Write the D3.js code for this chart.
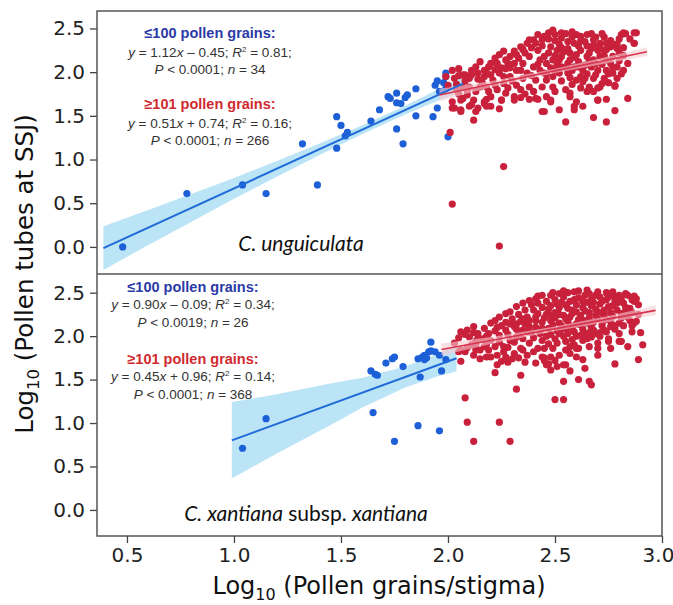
<!DOCTYPE html>
<html>
<head>
<meta charset="utf-8">
<script src="https://cdn.jsdelivr.net/npm/d3@7"></script>
<style>
body { margin: 0; background: #fff; }
</style>
</head>
<body>
<div id="chart"></div>
<script>
const xTicks = [0.5, 1.0, 1.5, 2.0, 2.5, 3.0]
const yTicks = [0.0, 0.5, 1.0, 1.5, 2.0, 2.5]
const xTitle = 'Log'
const yTitle = 'Log'

// C. unguiculata, <=100 pollen grains
const topSmall = [[0.48,0.00],[0.78,0.61],[1.04,0.71],[1.15,0.61],[1.32,1.18],[1.39,0.71],[1.48,1.49],[1.48,1.13],[1.50,1.39],[1.52,1.27],[1.53,1.31],[1.64,1.44],[1.68,1.57],[1.72,1.72],[1.76,1.76],[1.76,1.65],[1.78,1.64],[1.80,1.71],[1.81,1.74],[1.85,1.81],[1.76,1.35],[1.79,1.18],[1.85,1.50],[1.93,1.49],[1.95,1.59],[1.94,1.85],[1.95,1.90],[1.99,1.99],[1.99,1.81],[2.00,1.26],[1.96,1.78],[1.98,1.88],[1.73,1.70],[1.99,1.95]]

// C. unguiculata, >=101 pollen grains
const topLarge = [[2.01,1.31],[2.26,0.92],[2.02,0.49],[2.24,0.01],[2.12,1.45],[2.24,1.58],[2.44,1.55],[2.55,1.43],[2.68,1.48],[2.74,1.43],[2.78,1.56],[2.84,1.70],[2.52,1.57],[2.59,1.57],[2.63,1.61],[2.70,1.68],[2.78,1.84],[2.81,1.98],[2.84,2.10],[2.82,2.19],[2.87,2.33],[2.87,2.45],[2.82,2.45],[2.74,1.69],[2.71,1.83],[2.66,1.80],[2.57,1.72],[2.48,1.66],[2.38,1.69],[2.42,1.69],[2.34,1.71],[2.31,1.68],[2.17,1.64],[2.18,1.69],[2.13,1.55],[2.10,1.61],[2.07,1.70],[2.06,1.57],[2.02,1.59],[2.02,1.66],[2.05,1.75],[2.14,1.59],[2.20,1.61],[2.25,1.68],
  [2.49,2.48],[2.50,2.43],[2.53,2.39],[2.56,2.35],[2.59,2.33],[2.62,2.41],[2.65,2.43],[2.68,2.37],[2.71,2.33],[2.74,2.33],[2.73,2.25],[2.76,2.29],[2.79,2.27],[2.81,2.43],[2.83,2.44],[2.88,2.45],[2.87,2.33],[2.78,1.85],[2.77,1.99],[2.73,1.93],[2.72,1.87],[2.70,1.82],[2.68,1.93],[2.68,1.78],[2.70,1.68],[2.66,1.83],[2.63,1.89],[2.60,1.91],[2.63,2.02],[2.59,2.06],[2.56,2.10],[2.52,2.14],[2.49,2.14],[2.46,2.10],[2.45,2.18],[2.48,2.29],[2.51,2.25],[2.54,2.23],[2.57,2.22],[2.60,2.20],[2.65,2.18],[2.68,2.14],[2.71,2.18],[2.74,2.14],[2.77,2.18],[2.80,2.22],[2.70,2.02],[2.74,2.02],[2.56,1.99],[2.52,1.99],[2.49,1.95],[2.46,1.91],[2.45,1.99],[2.49,1.83],[2.50,1.78],[2.57,1.76],[2.65,1.78],[2.60,1.66],[2.48,1.68],[2.45,1.55],[2.59,1.61],[2.46,1.72],
  [2.06,1.68],[2.03,1.59],[2.02,2.02],[2.05,2.04],[2.07,1.97],[2.10,1.93],[2.14,1.99],[2.17,2.02],[2.20,2.10],[2.24,2.20],[2.27,2.14],[2.31,2.24],[2.34,2.29],[2.37,2.33],[2.40,2.37],[2.42,2.43],[2.38,2.18],[2.35,2.10],[2.32,2.02],[2.29,1.95],[2.26,1.87],[2.23,1.80],[2.20,1.72],[2.17,1.66],[2.13,1.78],[2.10,1.83],[2.07,1.83],[2.09,1.74],[2.12,1.68],[2.18,1.83],[2.21,1.91],[2.24,1.99],[2.27,2.04],[2.31,2.10],[2.34,2.02],[2.37,1.99],[2.40,2.06],[2.43,2.14],[2.41,1.91],[2.38,1.83],[2.34,1.80],[2.31,1.72],[2.27,1.76],[2.25,1.68],[2.41,1.70],[2.32,1.85],[2.23,2.10],[2.17,1.95],[2.13,2.06],[2.03,1.93],[2.00,1.85],[1.99,1.95],[2.06,1.55],[2.11,1.63],[2.18,1.61],
  [2.44,2.30],[2.47,2.38],[2.52,2.32],[2.55,2.44],[2.58,2.40],[2.61,2.30],[2.64,2.35],[2.67,2.27],[2.70,2.25],[2.73,2.40],[2.76,2.36],[2.79,2.32],[2.62,2.25],[2.66,2.22],[2.53,2.18],[2.57,2.14],[2.61,2.12],[2.64,2.08],[2.67,2.06],[2.72,2.09],[2.76,2.10],[2.79,2.06],[2.48,2.05],[2.51,2.09],[2.55,2.05],[2.42,2.25],[2.39,2.28],[2.36,2.22],[2.33,2.16],[2.29,2.18],[2.26,2.24],[2.22,2.16],[2.19,2.06],[2.15,2.12],[2.11,2.02],[2.08,1.90],[2.04,1.86],[2.16,1.88],[2.20,1.97],[2.26,1.95],[2.29,2.05],[2.43,2.02],[2.46,1.98],[2.58,1.86],[2.62,1.95],[2.65,1.98],[2.69,1.97],[2.75,1.98],[2.80,2.13],[2.82,2.28],[2.85,2.38],[2.69,2.40],[2.60,2.43],[2.50,2.36],[2.45,2.41],
  [2.47,2.22],[2.50,2.19],[2.53,2.28],[2.56,2.27],[2.59,2.17],[2.62,2.36],[2.65,2.30],[2.68,2.31],[2.71,2.28],[2.74,2.26],[2.77,2.32],[2.80,2.38],[2.72,2.44],[2.67,2.44],[2.58,2.46],[2.53,2.45],[2.47,2.45],[2.44,2.37],[2.41,2.33],[2.38,2.37],[2.35,2.26],[2.32,2.20],[2.28,2.10],[2.25,2.05],[2.22,2.03],[2.18,1.99],[2.14,1.92],[2.11,1.97],[2.08,1.97],[2.05,1.96],[2.04,1.80],[2.09,1.79],[2.15,1.83],[2.19,1.78],[2.22,1.85],[2.28,1.82],[2.35,1.93],[2.39,1.96],[2.42,2.09],[2.50,2.02],[2.53,2.06],[2.58,2.02],[2.61,2.06],[2.66,2.12],[2.69,2.10],[2.73,2.19],[2.77,2.05],[2.64,1.93],[2.57,1.94],[2.53,1.90],[2.44,1.83],[2.40,1.78],[2.30,1.90],[2.36,1.75],[2.62,1.82],[2.55,1.80],[2.75,1.88],[2.79,1.93],[2.82,2.02]]

// C. xantiana subsp. xantiana, <=100 pollen grains
const botSmall = [[1.04,0.71],[1.15,1.05],[1.65,1.12],[1.75,0.79],[1.86,0.97],[1.96,0.91],[1.64,1.60],[1.66,1.56],[1.67,1.55],[1.71,1.69],[1.74,1.74],[1.75,1.76],[1.79,1.65],[1.87,1.53],[1.86,1.74],[1.88,1.76],[1.89,1.78],[1.91,1.82],[1.92,1.83],[1.92,1.93],[1.94,1.82],[1.96,1.78],[1.89,1.73],[1.97,1.60],[1.99,1.73],[1.90,1.75]]

// C. xantiana subsp. xantiana, >=101 pollen grains
const botLarge = [[2.08,1.29],[2.09,1.01],[2.12,0.79],[2.24,1.01],[2.29,0.79],[2.32,1.39],[2.34,1.55],[2.22,1.58],[2.23,1.67],[2.15,1.74],[2.06,1.71],[2.50,1.27],[2.54,1.27],[2.54,1.48],[2.61,1.50],[2.66,1.48],[2.67,1.44],[2.54,1.67],[2.47,1.68],[2.41,1.69],[2.45,1.75],[2.78,1.68],[2.89,1.73],[2.91,1.90],[2.90,2.04],[2.88,2.17],[2.87,2.40],[2.87,2.46],[2.83,2.49],[2.63,1.73],[2.60,1.86],[2.70,1.86],[2.75,1.94],[2.81,1.94],[2.37,1.78],[2.35,1.84],[2.30,1.74],[2.26,1.82],[2.19,1.84],[2.13,1.84],[2.08,1.82],[2.06,1.84],
  [2.06,2.05],[2.09,2.07],[2.12,2.11],[2.10,1.99],[2.14,2.03],[2.17,2.09],[2.20,2.15],[2.22,2.18],[2.24,2.22],[2.27,2.26],[2.29,2.28],[2.32,2.34],[2.35,2.38],[2.38,2.41],[2.41,2.43],[2.44,2.47],[2.40,2.30],[2.37,2.22],[2.34,2.17],[2.31,2.11],[2.27,2.07],[2.24,2.01],[2.20,1.95],[2.17,1.88],[2.15,1.84],[2.11,1.90],[2.26,1.88],[2.29,1.95],[2.32,1.99],[2.35,2.07],[2.38,2.11],[2.41,2.18],[2.43,2.03],[2.38,1.92],[2.34,1.86],[2.31,1.80],[2.27,1.76],[2.25,1.71],[2.42,1.86],[2.44,1.76],[2.20,1.76],[2.03,1.92],[2.05,1.82],
  [2.45,1.86],[2.49,1.86],[2.45,1.72],[2.46,1.67],[2.48,1.61],[2.57,1.88],[2.55,1.84],[2.55,1.67],[2.65,1.97],[2.69,2.03],[2.73,2.07],[2.76,2.11],[2.80,2.15],[2.84,2.22],[2.87,2.15],[2.89,2.36],[2.88,2.43],[2.80,2.47],[2.76,2.49],[2.70,2.51],[2.65,2.53],[2.59,2.51],[2.52,2.49],[2.48,2.47],[2.80,2.03],[2.80,1.94],[2.75,1.97],[2.70,1.92],[2.61,1.86],
  [2.46,2.40],[2.50,2.42],[2.54,2.45],[2.57,2.40],[2.61,2.44],[2.64,2.47],[2.67,2.42],[2.71,2.45],[2.74,2.42],[2.78,2.41],[2.82,2.38],[2.85,2.32],[2.44,2.33],[2.48,2.35],[2.52,2.33],[2.56,2.32],[2.60,2.36],[2.63,2.33],[2.67,2.35],[2.71,2.37],[2.75,2.34],[2.79,2.30],[2.83,2.28],[2.46,2.25],[2.50,2.27],[2.54,2.24],[2.58,2.26],[2.62,2.24],[2.66,2.27],[2.70,2.28],[2.73,2.24],[2.77,2.23],[2.81,2.21],[2.44,2.16],[2.48,2.18],[2.52,2.15],[2.56,2.17],[2.60,2.14],[2.64,2.18],[2.68,2.16],[2.72,2.15],[2.76,2.17],[2.47,2.09],[2.51,2.06],[2.55,2.09],[2.59,2.05],[2.63,2.08],[2.67,2.10],[2.71,2.00],[2.46,2.00],[2.50,1.97],[2.54,2.00],[2.58,1.96],[2.62,2.01],[2.66,2.04],[2.42,2.26],[2.39,2.36],[2.36,2.30],[2.33,2.25],[2.30,2.20],[2.27,2.16],[2.23,2.10],[2.19,2.03],[2.16,1.97],[2.13,1.94],[2.28,2.02],[2.32,2.08],[2.36,2.14],[2.39,2.04],[2.35,1.97],[2.40,1.98],[2.44,2.09],[2.69,2.47],[2.56,2.50],[2.61,2.52],[2.74,2.50],[2.78,2.46],[2.86,2.42],[2.84,2.47],[2.53,2.39],[2.42,2.38],[2.58,2.30],[2.65,2.39],[2.69,2.31],[2.73,2.30],[2.77,2.35],[2.50,2.21],[2.55,2.20],[2.61,2.19],[2.66,2.21],[2.70,2.20],[2.74,2.19],[2.78,2.12],[2.57,2.12],[2.53,2.12],
  [2.48,2.02],[2.52,2.03],[2.56,2.03],[2.60,2.00],[2.64,2.02],[2.68,2.07],[2.72,2.12],[2.74,2.05],[2.78,2.08],[2.82,2.12],[2.85,2.18],[2.83,2.33],[2.86,2.27],[2.81,2.26],[2.79,2.38],[2.75,2.45],[2.72,2.40],[2.68,2.39],[2.63,2.40],[2.59,2.42],[2.55,2.36],[2.51,2.37],[2.47,2.31],[2.45,2.21],[2.49,2.13],[2.53,2.08],[2.58,2.09],[2.62,2.13],[2.65,2.15],[2.69,2.24],[2.72,2.27],[2.76,2.27],[2.64,2.29],[2.60,2.28],[2.57,2.22],[2.52,2.25],[2.48,2.24],[2.41,2.22],[2.38,2.18],[2.35,2.20],[2.32,2.14],[2.29,2.14],[2.25,2.12],[2.22,2.06],[2.18,2.00],[2.14,1.98],[2.12,2.04],[2.08,2.02],[2.05,1.98],[2.09,1.87],[2.13,1.90],[2.18,1.91],[2.22,1.88],[2.24,1.93],[2.28,1.87],[2.31,1.93],[2.33,2.02],[2.37,2.05],[2.41,2.10],[2.44,1.95],[2.47,1.91],[2.51,1.92],[2.55,1.94],[2.59,1.90],[2.63,1.95],[2.67,1.99],[2.71,2.04],[2.66,1.88],[2.57,1.80],[2.52,1.78],[2.48,1.76],[2.40,1.82],[2.36,1.70],[2.33,1.75],[2.28,1.70],[2.23,1.78],[2.18,1.76],[2.12,1.78],[2.50,1.72],[2.60,1.76],[2.64,1.63],[2.57,1.60],[2.51,1.65],[2.70,1.78],[2.76,1.86],[2.84,1.88],[2.86,2.05],[2.89,2.25],[2.86,2.12],[2.42,2.46],[2.49,2.50],[2.54,2.52],[2.66,2.49],[2.77,2.51],[2.81,2.43]]

// regression fits: [slope, intercept, xFrom, xTo]
const topSmallFit = [1.12, -0.45, 0.39, 2.07]
const topLargeFit = [0.51, 0.74, 1.96, 2.93]
const botSmallFit = [0.90, -0.09, 0.99, 2.04]
const botLargeFit = [0.45, 0.96, 1.97, 2.97]

// confidence band half-widths: [x, half-width]
const topSmallBand = [[0.39,0.25],[0.6,0.20],[0.8,0.16],[1.0,0.12],[1.2,0.09],[1.4,0.065],[1.6,0.05],[1.8,0.05],[1.95,0.065],[2.07,0.08]]
const topLargeBand = [[1.96,0.07],[2.2,0.035],[2.5,0.025],[2.7,0.035],[2.93,0.05]]
const botSmallBand = [[0.99,0.44],[1.2,0.34],[1.45,0.24],[1.6,0.17],[1.8,0.12],[1.95,0.13],[2.04,0.15]]
const botLargeBand = [[1.97,0.07],[2.2,0.04],[2.5,0.025],[2.75,0.035],[2.97,0.055]]

// annotation texts
const smallHead = '\u2264100 pollen grains:'
const largeHead = '\u2265101 pollen grains:'
const topStats = [['1.12', '\u2013', '0.45', '0.81', '0.0001', '34'], ['0.51', '+', '0.74', '0.16', '0.0001', '266']]
const botStats = [['0.90', '\u2013', '0.09', '0.34', '0.0019', '26'], ['0.45', '+', '0.96', '0.14', '0.0001', '368']]
const topSpecies = [['C. unguiculata', true]]
const botSpecies = [['C. xantiana', true], [' subsp. ', false], ['xantiana', true]]

const width = 673
const height = 605
const left = 97, right = 662
const blueDot = '#1c5fd6', redDot = '#c9213c'
const tickFont = 'DejaVu Sans, sans-serif'

const svg = d3.select('#chart').append('svg')
    .attr('width', width)
    .attr('height', height)
    .style('font-family', 'Liberation Sans, Arial, sans-serif')

const x = d3.scaleLinear().domain([0.36, 3.0]).range([left, right])

const panels = [
    {top: 11, bottom: 274, domain: [-0.31, 2.70], small: topSmall, large: topLarge,
     smallFit: topSmallFit, largeFit: topLargeFit, smallBand: topSmallBand, largeBand: topLargeBand,
     stats: topStats, textX: 210, textY: [38, 57, 74, 109, 128, 145],
     species: topSpecies, speciesX: 301, speciesY: 251},
    {top: 274, bottom: 536, domain: [-0.30, 2.715], small: botSmall, large: botLarge,
     smallFit: botSmallFit, largeFit: botLargeFit, smallBand: botSmallBand, largeBand: botLargeBand,
     stats: botStats, textX: 193, textY: [292, 308.5, 327, 363.5, 381, 398.5],
     species: botSpecies, speciesX: 306, speciesY: 521}
]

panels.forEach((p) => {
    const y = d3.scaleLinear().domain(p.domain).range([p.bottom, p.top])
    const clipId = 'clip' + p.top
    svg.append('clipPath').attr('id', clipId)
        .append('rect').attr('x', left).attr('y', p.top).attr('width', right - left).attr('height', p.bottom - p.top)
    const g = svg.append('g').attr('clip-path', `url(#${clipId})`)

    const band = (fit) => d3.area()
        .x((d) => x(d[0]))
        .y0((d) => y(fit[0] * d[0] + fit[1] - d[1]))
        .y1((d) => y(fit[0] * d[0] + fit[1] + d[1]))

    g.append('path').datum(p.smallBand)
        .attr('d', band(p.smallFit))
        .attr('fill', '#bce4f7')

    g.selectAll('.small').data(p.small).enter().append('circle')
        .attr('cx', (d) => x(d[0]))
        .attr('cy', (d) => y(d[1]))
        .attr('r', 3.6)
        .attr('fill', blueDot)
    g.selectAll('.large').data(p.large).enter().append('circle')
        .attr('cx', (d) => x(d[0]))
        .attr('cy', (d) => y(d[1]))
        .attr('r', 3.6)
        .attr('fill', redDot)

    g.append('path').datum(p.largeBand)
        .attr('d', band(p.largeFit))
        .attr('fill', '#f6c9d0')
        .attr('opacity', 0.6)

    const fitLine = (fit) => [[fit[2], fit[0] * fit[2] + fit[1]], [fit[3], fit[0] * fit[3] + fit[1]]]
    g.append('path').datum(fitLine(p.smallFit))
        .attr('d', d3.line().x((d) => x(d[0])).y((d) => y(d[1])))
        .attr('stroke', '#1f6bd8').attr('stroke-width', 2).attr('fill', 'none')
    g.append('path').datum(fitLine(p.largeFit))
        .attr('d', d3.line().x((d) => x(d[0])).y((d) => y(d[1])))
        .attr('stroke', '#d8344f').attr('stroke-width', 1.6).attr('fill', 'none')

    // y axis
    const yAxis = d3.axisLeft(y).tickValues(yTicks).tickFormat(d3.format('.1f')).tickSize(7).tickPadding(5)
    const ya = svg.append('g').attr('transform', `translate(${left},0)`).call(yAxis)
    ya.select('.domain').remove()
    ya.selectAll('line').attr('stroke', '#444').attr('stroke-width', 1.3)
    ya.selectAll('text').attr('font-family', tickFont).attr('font-size', 20).attr('fill', '#222')

    // annotation blocks
    const t = svg.append('g').attr('text-anchor', 'middle').attr('fill', '#333')
    const heads = [[smallHead, '#2b3aa6'], [largeHead, '#d02a30']]
    p.stats.forEach((s, i) => {
        t.append('text').attr('x', p.textX).attr('y', p.textY[i * 3])
            .attr('font-size', 14.5).attr('font-weight', 'bold').attr('fill', heads[i][1])
            .text(heads[i][0])
        const l1 = t.append('text').attr('x', p.textX).attr('y', p.textY[i * 3 + 1]).attr('font-size', 13.5)
        l1.append('tspan').attr('font-style', 'italic').text('y')
        l1.append('tspan').text(` = ${s[0]}`)
        l1.append('tspan').attr('font-style', 'italic').text('x')
        l1.append('tspan').text(` ${s[1]} ${s[2]}; `)
        l1.append('tspan').attr('font-style', 'italic').text('R')
        l1.append('tspan').attr('font-size', 8).attr('dy', -5).text('2')
        l1.append('tspan').attr('dy', 5).text(` = ${s[3]};`)
        const l2 = t.append('text').attr('x', p.textX).attr('y', p.textY[i * 3 + 2]).attr('font-size', 13.5)
        l2.append('tspan').attr('font-style', 'italic').text('P')
        l2.append('tspan').text(` < ${s[4]}; `)
        l2.append('tspan').attr('font-style', 'italic').text('n')
        l2.append('tspan').text(` = ${s[5]}`)
    })

    const sp = svg.append('text').attr('x', p.speciesX).attr('y', p.speciesY)
        .attr('text-anchor', 'middle').attr('font-family', 'Lato, sans-serif').attr('font-size', 21).attr('fill', '#111')
    p.species.forEach((s) => sp.append('tspan').attr('font-style', s[1] ? 'italic' : 'normal').text(s[0]))
})

// frame
svg.append('rect').attr('x', left).attr('y', 11).attr('width', right - left).attr('height', 536 - 11)
    .attr('fill', 'none').attr('stroke', '#555').attr('stroke-width', 1.5)
svg.append('line').attr('x1', left).attr('x2', right).attr('y1', 274).attr('y2', 274)
    .attr('stroke', '#555').attr('stroke-width', 1.5)

// x axis
const xAxis = d3.axisBottom(x).tickValues(xTicks).tickFormat(d3.format('.1f')).tickSize(7).tickPadding(5)
const xa = svg.append('g').attr('transform', 'translate(0,536)').call(xAxis)
xa.select('.domain').remove()
xa.selectAll('line').attr('stroke', '#444').attr('stroke-width', 1.3)
xa.selectAll('text').attr('font-family', tickFont).attr('font-size', 20).attr('fill', '#222')
    .attr('dx', (d) => d === 3.0 ? -4 : 0)

// axis titles
const xt = svg.append('text').attr('x', 379).attr('y', 594).attr('text-anchor', 'middle')
    .attr('font-family', tickFont).attr('font-size', 24).attr('fill', '#111')
xt.append('tspan').text(xTitle)
xt.append('tspan').attr('font-size', 16).attr('dy', 6).text('10')
xt.append('tspan').attr('dy', -6).text(' (Pollen grains/stigma)')

const yt = svg.append('text').attr('transform', 'translate(33,274) rotate(-90)').attr('text-anchor', 'middle')
    .attr('font-family', tickFont).attr('font-size', 24.5).attr('fill', '#111')
yt.append('tspan').text(yTitle)
yt.append('tspan').attr('font-size', 16.5).attr('dy', 6).text('10')
yt.append('tspan').attr('dy', -6).text(' (Pollen tubes at SSJ)')
</script>
</body>
</html>
